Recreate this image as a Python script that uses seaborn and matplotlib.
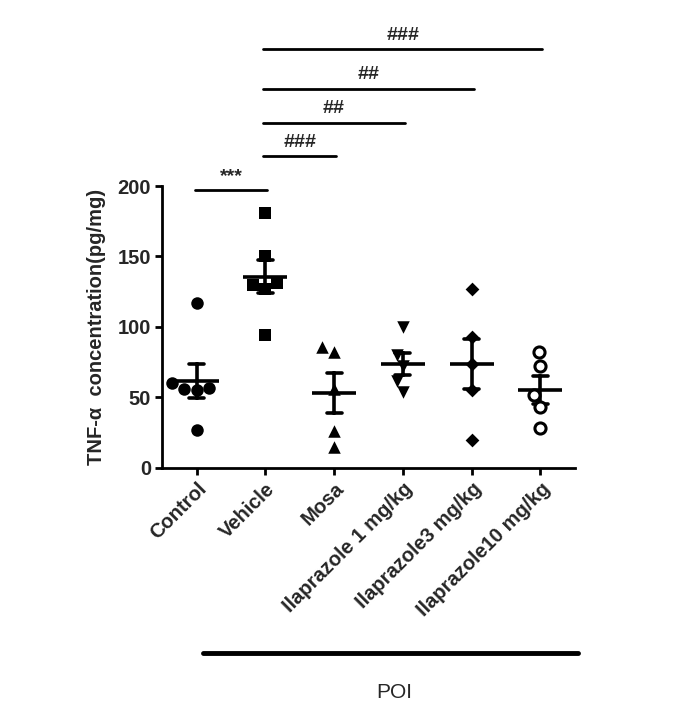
import matplotlib
matplotlib.use('Agg')
import matplotlib.pyplot as plt
import matplotlib.transforms as mtransforms
import pandas as pd
import seaborn as sns


# Data
groups = ['Control', 'Vehicle', 'Mosa', 'Ilaprazole 1 mg/kg', 'Ilaprazole3 mg/kg', 'Ilaprazole10 mg/kg']
control = [117, 56, 60, 55, 57, 27]
vehicle = [181, 150, 130, 127, 131, 94]
mosa = [86, 82, 56, 26, 15]
ila1 = [100, 80, 72, 62, 54]
ila3 = [127, 93, 74, 55, 20]
ila10 = [82, 72, 52, 43, 28]
values = [control, vehicle, mosa, ila1, ila3, ila10]
yticks = [0, 50, 100, 150, 200]

# significance brackets: (from group, to group, label, height in y units)
comparisons = [
    (0, 1, '***', 197),
    (1, 2, '###', 221),
    (1, 3, '##', 245),
    (1, 4, '##', 269),
    (1, 5, '###', 297),
]

rows = []
for g, vals in zip(groups, values):
    for v in vals:
        rows.append({'group': g, 'value': v})
df = pd.DataFrame(rows)

sns.set_style('ticks')
plt.rcParams['font.family'] = ['Liberation Sans', 'DejaVu Sans']
plt.rcParams['font.weight'] = 'bold'

fig = plt.figure(figsize=(6.73, 7.21), dpi=100)
ax = fig.add_axes([0.241, 0.351, 0.613, 0.391])

# individual points, one marker per group
marker_styles = [
    dict(marker='o', color='black'),
    dict(marker='s', color='black'),
    dict(marker='^', color='black'),
    dict(marker='v', color='black'),
    dict(marker='D', color='black', size=7),
    dict(marker='o', color='white', edgecolor='black', linewidth=2.2, size=8),
]
for g, st in zip(groups, marker_styles):
    st = dict(st)
    size = st.pop('size', 9)
    sns.swarmplot(data=df[df['group'] == g], x='group', y='value', order=groups,
                  size=size, ax=ax, **st)

# mean +/- SEM
sns.pointplot(data=df, x='group', y='value', order=groups, errorbar='se',
              capsize=0.22, linestyle='none', marker='_', markersize=32,
              markeredgewidth=2.6, color='black', err_kws={'linewidth': 2.6},
              ax=ax)

ax.set_xlim(-0.5, 5.5)
ax.set_ylim(0, 200)
ax.set_yticks(yticks)
ax.set_xlabel('')
ax.set_ylabel('TNF-α  concentration(pg/mg)', fontsize=14.5, fontweight='bold', labelpad=8)
ax.set_xticks(range(len(groups)))
ax.set_xticklabels(groups, rotation=45, ha='right', rotation_mode='anchor',
                   fontsize=14.5, fontweight='bold')
for lab in ax.get_yticklabels():
    lab.set_fontsize(14.5)
    lab.set_fontweight('bold')
ax.tick_params(axis='both', width=2, length=5, color='black', pad=3)
sns.despine(ax=ax)
for sp in ['left', 'bottom']:
    ax.spines[sp].set_linewidth(2)
    ax.spines[sp].set_color('black')

# significance lines
for a, b, lab, h in comparisons:
    ax.plot([a - 0.03, b + 0.03], [h, h], color='black', lw=2, clip_on=False,
            solid_capstyle='round')
    ax.text((a + b) / 2, h + 4, lab, ha='center', va='bottom', fontsize=14,
            fontweight='bold', clip_on=False)

# POI bar under the treated groups
trans = mtransforms.blended_transform_factory(ax.transData, ax.transAxes)
ax.plot([0.1, 5.55], [-0.656, -0.656], color='black', lw=3.5, transform=trans,
        clip_on=False, solid_capstyle='round')
ax.text(2.88, -0.795, 'POI', transform=trans, ha='center', va='center',
        fontsize=15, fontweight='normal')

fig.savefig('out.png', dpi=100)
